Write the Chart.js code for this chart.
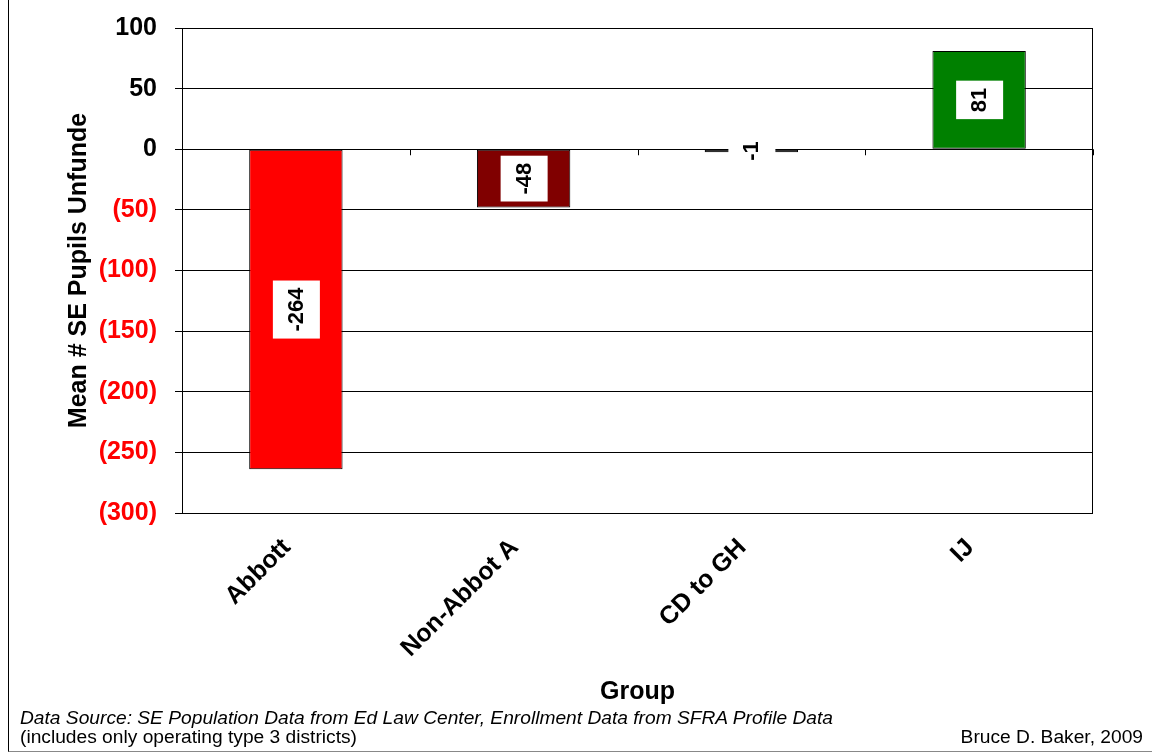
<!DOCTYPE html>
<html>
<head>
<meta charset="utf-8">
<script src="https://cdn.jsdelivr.net/npm/chart.js@4"></script>
<style>
    body { margin: 0; background: #fff; font-family: "Liberation Sans", Arial, sans-serif; }
    #wrap { position: relative; width: 1152px; height: 755px; }
    #frame { position: absolute; left: 8px; top: -2px; width: 1160px; height: 754px; border-left: 1px solid #000; border-bottom: 1px solid #888; box-sizing: border-box; }
    .note { position: absolute; font-size: 19.2px; color: #000; white-space: nowrap; }
</style>
</head>
<body>
<div id="wrap">
    <canvas id="chart" width="1152" height="755"></canvas>
    <div id="frame"></div>
    <div class="note" style="left:20px; top:707px; font-style:italic;">Data Source: SE Population Data from Ed Law Center, Enrollment Data from SFRA Profile Data</div>
    <div class="note" style="left:20px; top:726px;">(includes only operating type 3 districts)</div>
    <div class="note" style="right:9px; top:726px;">Bruce D. Baker, 2009</div>
</div>

<script>
// =======================================================
// DATA
// =======================================================
const groups = ["Abbott", "Non-Abbot A", "CD to GH", "IJ"];
const pupilsUnfunded = [-264, -48, -1, 81];
const barColors = ["#FF0000", "#800000", "#000000", "#008000"];
const yTicks = [100, 50, 0, -50, -100, -150, -200, -250, -300];

const FONT = "'Liberation Sans', Arial, sans-serif";


// =======================================================
// PLOT FRAME + CATEGORY TICKS ON THE ZERO LINE
// =======================================================
const framePlugin = {
    id: "frame",
    afterDatasetsDraw(chart) {
        const { ctx, chartArea: a, scales } = chart;
        const y0 = scales.y.getPixelForValue(0);
        const step = (a.right - a.left) / groups.length;

        ctx.save();
        ctx.strokeStyle = "#000";
        ctx.lineWidth = 1;
        ctx.strokeRect(a.left + 0.5, a.top + 0.5, a.right - a.left - 1, a.bottom - a.top);

        ctx.beginPath();
        for (let i = 1; i <= groups.length; i++) {
            const x = Math.round(a.left + i * step) + 0.5;
            ctx.moveTo(x, y0);
            ctx.lineTo(x, y0 + 6);
        }
        ctx.stroke();
        ctx.restore();
    }
};


// =======================================================
// VALUE LABELS (white boxes, rotated text)
// =======================================================
const valueLabels = {
    id: "valueLabels",
    afterDatasetsDraw(chart) {
        const { ctx } = chart;
        const meta = chart.getDatasetMeta(0);

        ctx.save();
        ctx.font = "bold 22px " + FONT;
        ctx.textAlign = "center";
        ctx.textBaseline = "middle";

        meta.data.forEach((bar, i) => {
            const text = String(pupilsUnfunded[i]);
            const cy = (bar.y + bar.base) / 2;
            const w = ctx.measureText(text).width;

            ctx.save();
            ctx.translate(bar.x, cy);
            ctx.rotate(-Math.PI / 2);
            ctx.fillStyle = "#fff";
            ctx.fillRect(-w / 2 - 7, -23, w + 14, 47);
            ctx.fillStyle = "#000";
            ctx.fillText(text, 0, 1);
            ctx.restore();
        });
        ctx.restore();
    }
};


// =======================================================
// CHART
// =======================================================
new Chart(document.getElementById("chart"), {
    type: "bar",
    data: {
        labels: groups,
        datasets: [{
            data: pupilsUnfunded,
            backgroundColor: barColors,
            borderColor: "#000",
            borderWidth: 1,
            borderSkipped: false,
            minBarLength: 3,
            categoryPercentage: 1,
            barPercentage: 0.41
        }]
    },
    options: {
        responsive: false,
        animation: false,
        devicePixelRatio: 1,
        layout: { padding: { top: 28, right: 59, bottom: 48, left: 64 } },
        plugins: {
            legend: { display: false },
            tooltip: { enabled: false }
        },
        scales: {
            x: {
                grid: { display: false, drawTicks: false },
                border: { display: false },
                ticks: {
                    color: "#000",
                    font: { family: FONT, size: 25, weight: "bold" },
                    minRotation: 45,
                    maxRotation: 45,
                    padding: 20,
                    labelOffset: -9
                },
                title: {
                    display: true,
                    text: "Group",
                    color: "#000",
                    font: { family: FONT, size: 25, weight: "bold" },
                    padding: { top: 0, bottom: 0 }
                },
                afterFit(scale) { scale.height = 194; }
            },
            y: {
                min: -300,
                max: 100,
                afterBuildTicks(scale) { scale.ticks = yTicks.map(v => ({ value: v })); },
                grid: { color: "#000", lineWidth: 1, tickLength: 7 },
                border: { color: "#000" },
                ticks: {
                    padding: 18,
                    font: { family: FONT, size: 25, weight: "bold" },
                    color: c => (c.tick && c.tick.value < 0 ? "#FF0000" : "#000"),
                    callback: v => (v < 0 ? "(" + Math.abs(v) + ")" : String(v))
                },
                title: {
                    display: true,
                    text: "Mean # SE Pupils Unfunde",
                    color: "#000",
                    font: { family: FONT, size: 25, weight: "bold" },
                    padding: { top: 0, bottom: 0 }
                },
                afterFit(scale) {
                    scale.width = 118;
                    scale.paddingTop = 0;
                    scale.paddingBottom = 0;
                }
            }
        }
    },
    plugins: [framePlugin, valueLabels]
});
</script>
</body>
</html>
